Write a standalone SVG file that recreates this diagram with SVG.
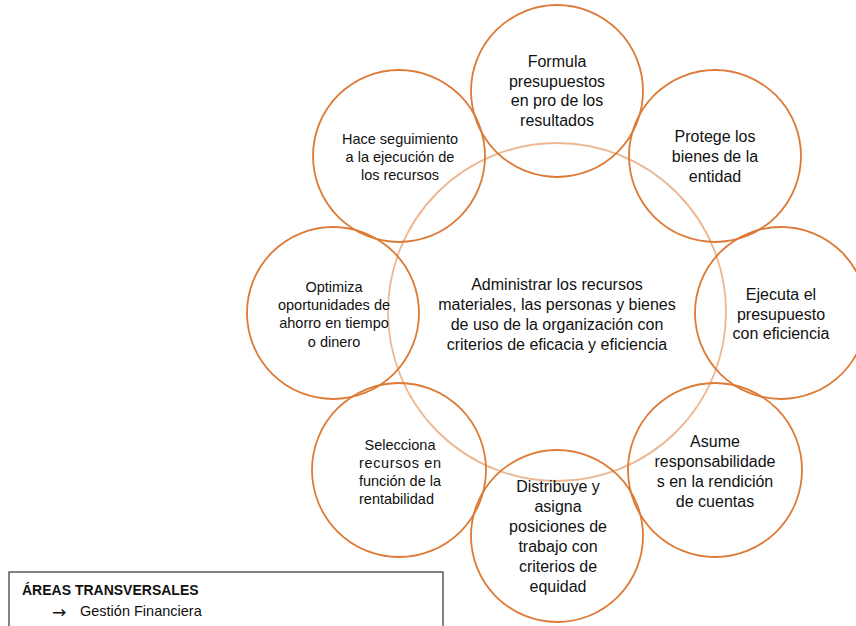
<svg xmlns="http://www.w3.org/2000/svg" width="856" height="626" viewBox="0 0 856 626">
<style>
.bg{fill:#ffffff}
.outer{fill:none;stroke:#dc7a36;stroke-width:1.8}
.core{fill:none;stroke:#ecb893;stroke-width:1.8}
.t{font-family:"Liberation Sans",Arial,sans-serif;font-size:16px;fill:#111;text-anchor:middle}
.s{font-size:14.5px}
.box{fill:#fff;stroke:#333;stroke-width:1.2}
.h{font-family:"Liberation Sans",Arial,sans-serif;font-size:14px;font-weight:bold;fill:#111}
.l{font-family:"Liberation Sans",Arial,sans-serif;font-size:14.5px;fill:#111}
.arr{font-family:"DejaVu Sans",sans-serif;font-size:17px;fill:#111}
</style>
<rect class="bg" x="0" y="0" width="856" height="626"/>
<g id="center">
<circle class="core" cx="557" cy="312" r="169"/>
<text class="t"><tspan x="557" y="290">Administrar los recursos</tspan><tspan x="557" y="310">materiales, las personas y bienes</tspan><tspan x="557" y="330">de uso de la organización con</tspan><tspan x="557" y="350">criterios de eficacia y eficiencia</tspan></text>
</g>
<g id="n-top">
<circle class="outer" cx="557" cy="91" r="86"/>
<text class="t"><tspan x="557" y="67">Formula</tspan><tspan x="557" y="86.5">presupuestos</tspan><tspan x="557" y="106">en pro de los</tspan><tspan x="557" y="125.5">resultados</tspan></text>
</g>
<g id="n-topright">
<circle class="outer" cx="715" cy="156" r="86"/>
<text class="t"><tspan x="715" y="142">Protege los</tspan><tspan x="715" y="162">bienes de la</tspan><tspan x="715" y="182">entidad</tspan></text>
</g>
<g id="n-right">
<circle class="outer" cx="781" cy="313" r="86"/>
<text class="t"><tspan x="781" y="300">Ejecuta el</tspan><tspan x="781" y="319.5">presupuesto</tspan><tspan x="781" y="339">con eficiencia</tspan></text>
</g>
<g id="n-bottomright">
<circle class="outer" cx="715" cy="470" r="87"/>
<text class="t"><tspan x="715" y="447">Asume</tspan><tspan x="715" y="467">responsabilidade</tspan><tspan x="715" y="487">s en la rendición</tspan><tspan x="715" y="507">de cuentas</tspan></text>
</g>
<g id="n-bottom">
<circle class="outer" cx="557" cy="536" r="86"/>
<text class="t"><tspan x="558" y="492">Distribuye y</tspan><tspan x="558" y="512">asigna</tspan><tspan x="558" y="532">posiciones de</tspan><tspan x="558" y="552">trabajo con</tspan><tspan x="558" y="572">criterios de</tspan><tspan x="558" y="592">equidad</tspan></text>
</g>
<g id="n-bottomleft">
<circle class="outer" cx="399" cy="470" r="87"/>
<text class="t s"><tspan x="400" y="450">Selecciona</tspan></text>
<text class="t s" style="text-anchor:start"><tspan x="359" y="468" textLength="82" lengthAdjust="spacing">recursos en</tspan><tspan x="359" y="486" textLength="82" lengthAdjust="spacing">función de la</tspan><tspan x="359" y="503.5">rentabilidad</tspan></text>
</g>
<g id="n-left">
<circle class="outer" cx="333" cy="313" r="86"/>
<text class="t s"><tspan x="334" y="292">Optimiza</tspan><tspan x="334" y="310">oportunidades de</tspan><tspan x="334" y="328">ahorro en tiempo</tspan><tspan x="334" y="346.5">o dinero</tspan></text>
</g>
<g id="n-topleft">
<circle class="outer" cx="399" cy="156" r="86"/>
<text class="t s"><tspan x="400" y="144">Hace seguimiento</tspan><tspan x="400" y="162">a la ejecución de</tspan><tspan x="400" y="180">los recursos</tspan></text>
</g>
<g id="legend">
<rect class="box" x="9" y="572" width="434" height="70"/>
<text class="h" x="22" y="595">ÁREAS TRANSVERSALES</text>
<text class="arr" x="52" y="618">→</text>
<text class="l" x="80" y="616">Gestión Financiera</text>
</g>
</svg>
